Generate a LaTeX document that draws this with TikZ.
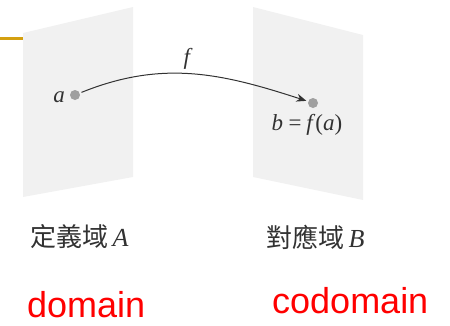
\documentclass[tikz,border=0pt]{standalone}
\usepackage{fontspec}
\setmainfont{Liberation Serif}
\newfontfamily\cjk{Noto Sans CJK TC}
\newfontfamily\arialf{Liberation Sans}
\usetikzlibrary{arrows.meta}
\definecolor{panel}{RGB}{241,241,241}
\definecolor{dotgray}{RGB}{160,160,160}
\definecolor{gold}{RGB}{212,160,16}
\definecolor{txt}{RGB}{50,50,50}
\begin{document}
\begin{tikzpicture}[x=1pt,y=-1pt,
  dot/.style={circle,fill=dotgray,inner sep=0pt,minimum size=10pt,outer sep=2pt},
  mathlbl/.style={font=\fontsize{23}{25}\selectfont\itshape,text=txt,inner sep=1pt},
  cjklbl/.style={font=\fontsize{26}{28}\selectfont,text=txt,anchor=west,inner sep=0pt},
  redlbl/.style={font=\arialf\fontsize{36}{38}\selectfont,text=red,anchor=west,inner sep=0pt}]
\useasboundingbox (0,0) rectangle (450,325);
% panels
\fill[panel] (23,33) -- (133,7) -- (133,177) -- (23,197) -- cycle;
\fill[panel] (253,7) -- (363,35) -- (363,200) -- (253,177) -- cycle;
% orange bar
\draw[gold,line width=3pt] (0,38) -- (23,38);
% points
\node[dot] (a) at (75,95) {};
\node[dot] (b) at (313,103) {};
\node[mathlbl,anchor=east] (la) at (66,97) {a};
\node[mathlbl] (lb) at (307,125) {b\,=\,f\textup{(}a\textup{)}};
\draw[line width=1pt,txt,-{Stealth[length=10pt,width=8pt]}] (a) to[out=22,in=162] node[mathlbl,pos=0.47,above=3pt] (lf) {f} (b);
% captions
\node[cjklbl] (da) at (30,237) {{\cjk 定義域}\,\textit{A}};
\node[cjklbl] (cb) at (266,237) {{\cjk 對應域}\,\textit{B}};
\node[redlbl] (dom) at (27,305) {domain};
\node[redlbl] (cod) at (272,301) {codomain};
\end{tikzpicture}
\end{document}
